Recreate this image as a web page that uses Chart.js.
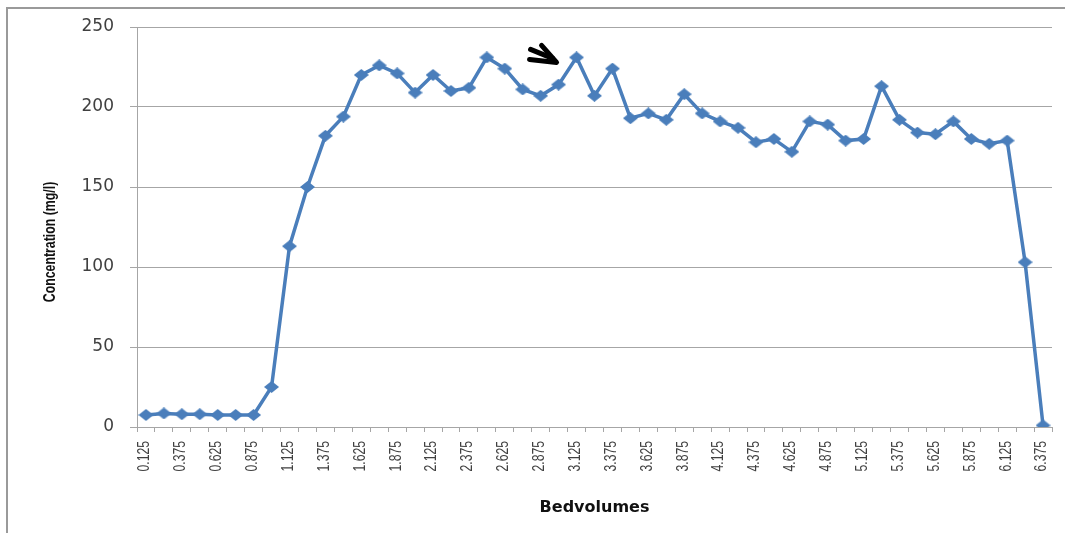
<!DOCTYPE html>
<html>
<head>
<meta charset="utf-8">
<script src="https://cdn.jsdelivr.net/npm/chart.js@4.4.1/dist/chart.umd.min.js"></script>
<style>
  html, body { margin: 0; padding: 0; background: #fff; }
  #wrap { width: 1065px; height: 533px; position: relative; }
</style>
</head>
<body>
<div id="wrap"><canvas id="myChart" width="1065" height="533"></canvas></div>
<script>
var bedvolumes = ['0.125', '0.25', '0.375', '0.5', '0.625', '0.75', '0.875', '1', '1.125', '1.25',
    '1.375', '1.5', '1.625', '1.75', '1.875', '2', '2.125', '2.25', '2.375', '2.5',
    '2.625', '2.75', '2.875', '3', '3.125', '3.25', '3.375', '3.5', '3.625', '3.75',
    '3.875', '4', '4.125', '4.25', '4.375', '4.5', '4.625', '4.75', '4.875', '5',
    '5.125', '5.25', '5.375', '5.5', '5.625', '5.75', '5.875', '6', '6.125', '6.25', '6.375'];

var concentration = [7.5, 8.5, 8, 8, 7.5, 7.5, 7.5, 25, 113, 150,
    182, 194, 220, 226, 221, 209, 220, 210, 212, 231,
    224, 211, 207, 214, 231, 207, 224, 193, 196, 192,
    208, 196, 191, 187, 178, 180, 172, 191, 189, 179,
    180, 213, 192, 184, 183, 191, 180, 177, 179, 103, 1];

var yTicks = [0, 50, 100, 150, 200, 250];
var yTitle = 'Concentration (mg/l)';
var arrowIndex = 24; // the point the arrow is pointing at

var lineColor = '#4a7ebb';
var gridColor = '#a6a6a6';

// excel style diamond, a little wider than tall
function diamond(w, h, color) {
    var c = document.createElement('canvas');
    c.width = w; c.height = h;
    var g = c.getContext('2d');
    g.fillStyle = color;
    g.beginPath();
    g.moveTo(w / 2, 0);
    g.lineTo(w, h / 2);
    g.lineTo(w / 2, h);
    g.lineTo(0, h / 2);
    g.closePath();
    g.fill();
    return c;
}

var extras = {
    id: 'extras',
    beforeDraw: function (chart) {
        var c = chart.ctx;
        c.save();
        c.strokeStyle = '#9a9a9a';
        c.lineWidth = 2;
        c.beginPath();
        c.moveTo(7, 533);
        c.lineTo(7, 8);
        c.lineTo(1065, 8);
        c.stroke();
        c.restore();
    },
    afterDraw: function (chart) {
        var c = chart.ctx;
        var xs = chart.scales.x;
        var ys = chart.scales.y;
        // rotated category labels, reading bottom to top, squeezed along the text
        c.save();
        c.fillStyle = '#404040';
        c.font = '16px "Liberation Sans", Arial, sans-serif';
        c.textAlign = 'right';
        c.textBaseline = 'middle';
        for (var i = 0; i < bedvolumes.length; i += 2) {
            var px = xs.getPixelForValue(i);
            c.save();
            c.translate(px - 1, ys.bottom + 14);
            c.rotate(-Math.PI / 2);
            c.scale(0.76, 1);
            c.fillText(bedvolumes[i], 0, 0);
            c.restore();
        }
        c.restore();

        // y axis title
        c.save();
        c.fillStyle = '#111';
        c.font = 'bold 16px "Liberation Sans", Arial, sans-serif';
        c.textAlign = 'center';
        c.textBaseline = 'middle';
        c.translate(51, 242);
        c.rotate(-Math.PI / 2);
        c.scale(0.77, 1);
        c.fillText(yTitle, 0, 0);
        c.restore();

        // the black arrow next to the peak
        var tx = xs.getPixelForValue(arrowIndex) - 20;
        var ty = ys.getPixelForValue(concentration[arrowIndex]) + 5;
        c.save();
        c.strokeStyle = '#000';
        c.lineCap = 'round';
        c.lineJoin = 'round';
        c.lineWidth = 5;
        c.beginPath();
        c.moveTo(tx - 15, ty - 17);
        c.lineTo(tx, ty);
        c.lineTo(tx - 27, ty - 3);
        c.stroke();
        c.beginPath();
        c.moveTo(tx - 26, ty - 13);
        c.lineTo(tx - 4, ty - 4);
        c.stroke();
        c.restore();
    }
};

var ctx = document.getElementById('myChart').getContext('2d');

var mychart = new Chart(ctx, {
    type: 'line',
    data: {
        labels: bedvolumes,
        datasets: [{
            label: 'Concentration',
            data: concentration,
            borderColor: lineColor,
            backgroundColor: lineColor,
            borderWidth: 3.5,
            pointStyle: diamond(15, 12, lineColor),
            pointRadius: 7,
            tension: 0,
            fill: false
        }]
    },
    options: {
        responsive: false,
        animation: false,
        layout: { padding: { left: 10, top: 27, right: 13, bottom: 0 } },
        plugins: {
            legend: { display: false },
            tooltip: { enabled: false }
        },
        scales: {
            x: {
                offset: true,
                grid: {
                    offset: true,
                    drawOnChartArea: false,
                    drawTicks: true,
                    tickLength: 5,
                    color: gridColor
                },
                border: { display: true, color: gridColor, width: 1 },
                ticks: { display: false, autoSkip: false },
                afterFit: function (scale) { scale.height = 106; },
                title: {
                    display: true,
                    text: 'Bedvolumes',
                    color: '#111',
                    font: { family: '"DejaVu Sans", sans-serif', size: 16, weight: 'bold' },
                    padding: { top: 0, bottom: 16 }
                }
            },
            y: {
                min: 0,
                max: 250,
                afterBuildTicks: function (scale) {
                    scale.ticks = yTicks.map(function (v) { return { value: v }; });
                },
                grid: {
                    color: gridColor,
                    lineWidth: 1,
                    drawTicks: true,
                    tickLength: 7
                },
                border: { display: true, color: gridColor, width: 1 },
                ticks: {
                    color: '#404040',
                    padding: 16,
                    font: { family: '"DejaVu Sans", sans-serif', size: 17 }
                },
                afterFit: function (scale) { scale.width = 127; }
            }
        }
    },
    plugins: [extras]
});
</script>
</body>
</html>
